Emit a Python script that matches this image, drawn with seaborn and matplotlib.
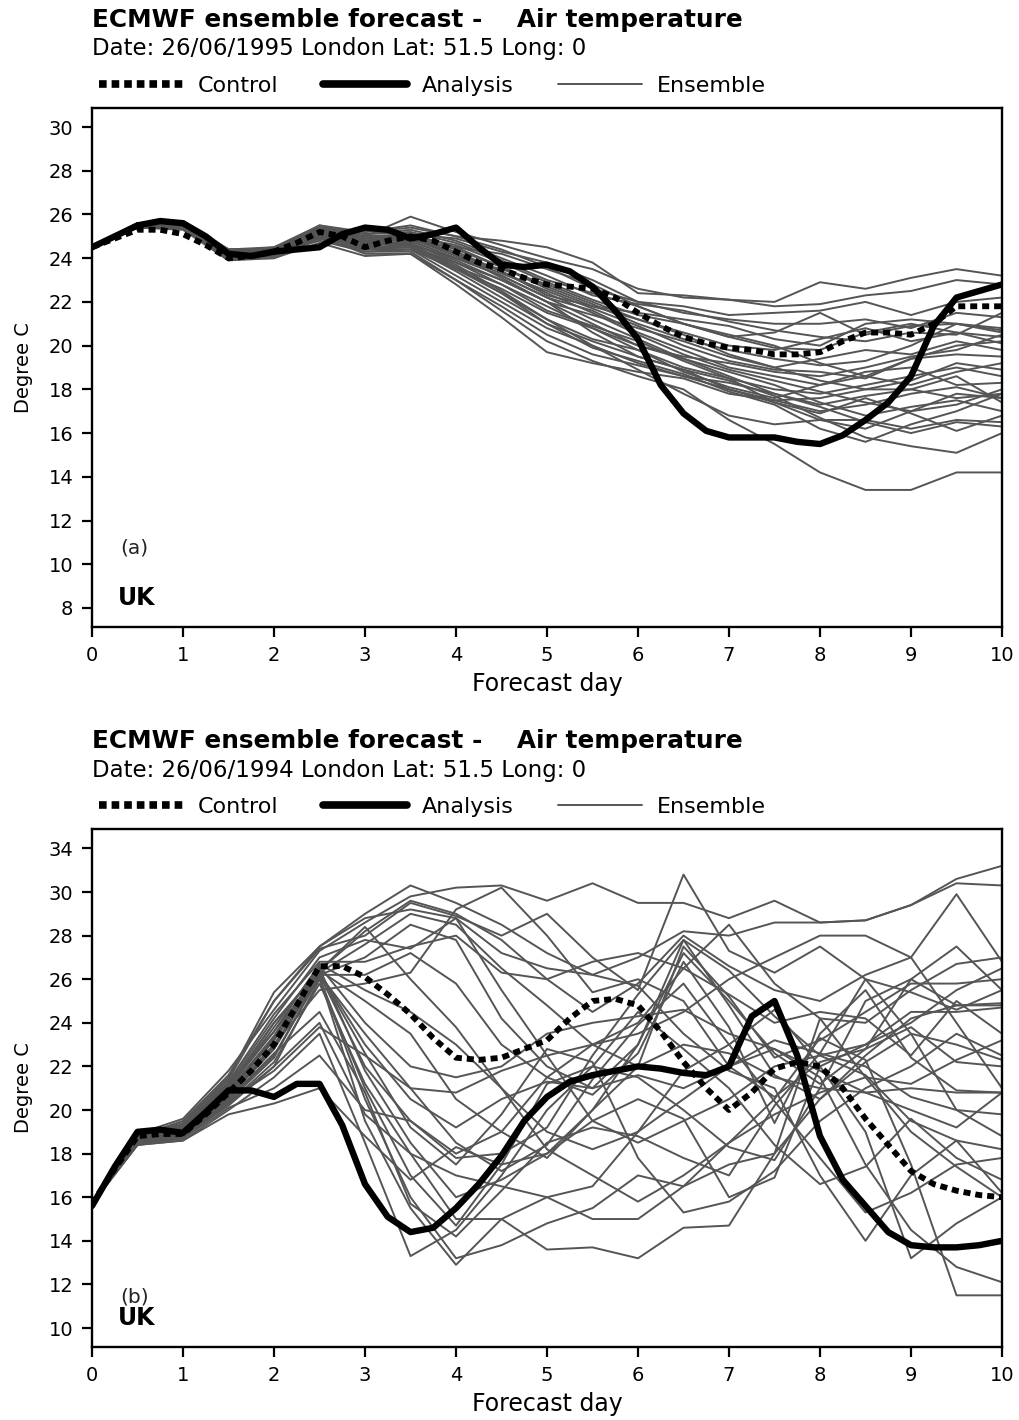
import numpy as np
import pandas as pd
import matplotlib
matplotlib.use("Agg")
import matplotlib.pyplot as plt
from matplotlib.lines import Line2D
import seaborn as sns

# forecast days
ens_days = [i * 0.5 for i in range(21)]
fine_days = [i * 0.25 for i in range(41)]

# ---- panel (a): 26/06/1995 ----
control_a = [24.5, 24.9, 25.3, 25.3, 25.1, 24.6, 24.0, 24.1, 24.3, 24.7, 25.2, 25.0, 24.5, 24.8,
             25.0, 24.8, 24.3, 23.8, 23.5, 23.1, 22.8, 22.7, 22.6, 22.2, 21.5, 20.9, 20.4, 20.1,
             19.9, 19.8, 19.6, 19.6, 19.7, 20.2, 20.6, 20.6, 20.5, 21.0, 21.8, 21.8, 21.8]
analysis_a = [24.5, 25.0, 25.5, 25.7, 25.6, 25.0, 24.2, 24.1, 24.3, 24.4, 24.5, 25.1, 25.4, 25.3,
              24.9, 25.1, 25.4, 24.5, 23.7, 23.6, 23.7, 23.4, 22.7, 21.6, 20.3, 18.2, 16.9, 16.1,
              15.8, 15.8, 15.8, 15.6, 15.5, 15.9, 16.6, 17.4, 18.6, 20.9, 22.2, 22.5, 22.8]
ensemble_a = [
    [24.5, 25.5, 25.6, 24.3, 24.4, 25.4, 25.0, 25.9, 25.2, 24.6, 24.0, 23.5, 22.6, 22.2, 22.1, 22.0, 22.9, 22.6, 23.1, 23.5, 23.2],
    [24.5, 25.6, 25.7, 24.4, 24.3, 25.5, 25.2, 25.4, 25.0, 24.8, 24.5, 23.8, 22.4, 22.3, 22.1, 21.8, 21.9, 22.3, 22.5, 23.0, 22.8],
    [24.5, 25.5, 25.5, 24.2, 24.4, 25.3, 24.9, 25.1, 24.9, 24.3, 23.8, 23.0, 22.0, 21.5, 21.2, 21.0, 21.0, 21.2, 20.8, 21.5, 21.3],
    [24.5, 25.4, 25.4, 24.0, 24.2, 25.0, 24.6, 24.8, 24.5, 24.2, 23.5, 22.8, 21.8, 21.0, 20.4, 20.6, 21.5, 20.5, 20.9, 21.0, 20.8],
    [24.5, 25.5, 25.6, 24.1, 24.3, 25.2, 24.8, 24.6, 24.0, 23.5, 22.8, 22.0, 21.2, 20.6, 20.0, 19.8, 20.3, 20.8, 20.2, 20.6, 20.4],
    [24.5, 25.6, 25.5, 24.2, 24.2, 25.1, 24.5, 24.5, 23.8, 23.0, 22.0, 21.4, 20.8, 20.2, 19.5, 19.0, 19.4, 19.8, 19.6, 20.2, 19.8],
    [24.5, 25.5, 25.4, 24.0, 24.1, 24.9, 24.4, 24.4, 23.5, 22.6, 21.5, 20.8, 20.0, 19.5, 19.2, 18.8, 18.6, 19.0, 19.5, 19.8, 20.5],
    [24.5, 25.5, 25.5, 24.3, 24.5, 25.3, 25.0, 25.0, 24.6, 23.8, 22.9, 22.1, 21.4, 21.0, 20.4, 19.9, 19.8, 20.6, 21.0, 20.6, 20.1],
    [24.5, 25.4, 25.3, 23.9, 24.2, 24.8, 24.3, 24.3, 23.0, 21.8, 20.5, 19.6, 19.1, 18.6, 18.0, 17.5, 17.6, 18.0, 18.4, 19.2, 18.9],
    [24.5, 25.5, 25.4, 24.1, 24.3, 25.0, 24.2, 24.2, 22.8, 21.3, 19.7, 19.2, 18.8, 18.5, 17.8, 17.5, 17.0, 17.3, 17.8, 18.1, 17.6],
    [24.5, 25.5, 25.5, 24.2, 24.4, 25.2, 24.7, 24.6, 23.6, 22.4, 21.2, 20.3, 19.8, 19.0, 18.5, 18.0, 17.8, 18.2, 18.6, 19.0, 18.6],
    [24.5, 25.6, 25.6, 24.4, 24.4, 25.4, 24.9, 24.8, 24.0, 23.2, 22.2, 21.6, 20.6, 19.8, 19.0, 18.6, 18.2, 18.6, 19.4, 20.0, 20.2],
    [24.5, 25.5, 25.4, 24.0, 24.0, 24.9, 24.3, 24.4, 23.2, 22.0, 20.8, 20.0, 19.2, 18.6, 18.3, 17.8, 17.2, 16.5, 16.0, 16.5, 16.3],
    [24.5, 25.4, 25.5, 24.1, 24.2, 25.1, 24.6, 24.7, 23.9, 23.0, 22.0, 21.0, 20.0, 19.4, 18.8, 18.2, 17.4, 16.8, 17.2, 17.5, 17.0],
    [24.5, 25.5, 25.6, 24.2, 24.3, 25.3, 25.0, 25.1, 24.5, 23.6, 22.6, 21.8, 21.2, 20.5, 19.6, 19.0, 18.4, 18.0, 18.0, 17.6, 17.8],
    [24.5, 25.5, 25.5, 24.3, 24.4, 25.4, 25.1, 25.3, 24.8, 24.0, 23.2, 22.3, 21.9, 21.6, 21.1, 20.7, 20.4, 20.2, 20.6, 20.5, 21.5],
    [24.5, 25.6, 25.5, 24.2, 24.3, 25.2, 24.7, 24.9, 24.3, 23.4, 22.4, 21.5, 20.5, 19.6, 18.9, 18.4, 17.9, 17.4, 17.0, 17.3, 18.0],
    [24.5, 25.4, 25.4, 23.9, 24.0, 24.7, 24.1, 24.2, 23.0, 21.6, 20.2, 19.3, 18.6, 18.0, 16.6, 15.5, 14.2, 13.4, 13.4, 14.2, 14.2],
    [24.5, 25.5, 25.5, 24.1, 24.2, 25.0, 24.5, 24.6, 23.7, 22.5, 21.2, 20.0, 18.9, 17.8, 16.8, 16.4, 16.6, 16.6, 16.2, 16.6, 16.5],
    [24.5, 25.5, 25.6, 24.3, 24.4, 25.3, 24.9, 25.0, 24.2, 23.1, 22.0, 20.6, 19.5, 18.9, 18.4, 17.7, 16.7, 15.8, 15.4, 15.1, 16.0],
    [24.5, 25.6, 25.6, 24.4, 24.5, 25.5, 25.1, 25.2, 24.7, 23.9, 23.0, 22.4, 21.8, 21.0, 20.5, 20.0, 19.2, 18.6, 18.2, 18.8, 19.2],
    [24.5, 25.5, 25.5, 24.2, 24.3, 25.2, 24.8, 24.9, 24.2, 23.4, 22.3, 21.8, 21.5, 21.2, 20.9, 20.3, 20.0, 21.0, 21.2, 21.0, 20.7],
    [24.5, 25.5, 25.4, 24.0, 24.1, 25.0, 24.5, 24.5, 23.4, 22.2, 21.0, 20.2, 19.5, 18.9, 18.0, 17.4, 16.9, 17.6, 16.9, 16.1, 16.8],
    [24.5, 25.6, 25.7, 24.4, 24.4, 25.4, 25.2, 25.5, 25.0, 24.4, 23.6, 22.6, 22.0, 21.8, 21.4, 21.5, 21.6, 22.0, 21.4, 22.0, 22.2],
    [24.5, 25.5, 25.5, 24.2, 24.3, 25.1, 24.6, 24.8, 24.0, 23.2, 22.2, 21.2, 20.3, 19.4, 18.6, 17.8, 17.3, 17.7, 18.0, 18.6, 17.4],
    [24.5, 25.4, 25.4, 24.0, 24.2, 24.9, 24.4, 24.5, 23.6, 22.8, 21.8, 20.8, 19.8, 18.8, 18.1, 17.6, 18.2, 18.8, 19.0, 18.2, 18.3],
    [24.5, 25.5, 25.6, 24.3, 24.4, 25.3, 24.8, 25.0, 24.4, 23.6, 22.7, 21.9, 21.0, 20.3, 19.8, 19.4, 19.1, 19.3, 20.0, 21.0, 20.6],
    [24.5, 25.5, 25.5, 24.1, 24.3, 25.1, 24.6, 24.7, 23.8, 22.8, 21.6, 20.9, 20.2, 19.3, 18.5, 17.4, 16.6, 16.2, 17.0, 17.8, 17.6],
    [24.5, 25.6, 25.5, 24.2, 24.4, 25.2, 24.8, 24.9, 24.1, 23.3, 22.5, 21.7, 20.9, 20.0, 19.3, 18.9, 18.8, 18.5, 19.4, 19.6, 19.5],
    [24.5, 25.5, 25.5, 24.1, 24.2, 25.0, 24.5, 24.6, 23.5, 22.4, 21.0, 19.9, 19.3, 18.7, 17.9, 17.3, 16.2, 15.6, 16.4, 17.0, 17.8],
]

# ---- panel (b): 26/06/1994 ----
control_b = [15.7, 17.3, 18.8, 18.9, 18.9, 19.8, 20.8, 21.8, 23.0, 24.8, 26.6, 26.6, 26.1, 25.3,
             24.4, 23.3, 22.4, 22.3, 22.4, 22.8, 23.2, 24.2, 25.0, 25.1, 24.8, 23.6, 22.2, 21.0,
             20.0, 20.8, 21.9, 22.2, 22.0, 21.0, 19.6, 18.4, 17.2, 16.6, 16.3, 16.1, 16.0]
analysis_b = [15.6, 17.4, 19.0, 19.1, 18.95, 19.9, 20.9, 20.9, 20.6, 21.2, 21.2, 19.3, 16.6, 15.1,
              14.4, 14.6, 15.5, 16.6, 17.9, 19.5, 20.6, 21.3, 21.6, 21.8, 22.0, 21.9, 21.7, 21.6,
              22.0, 24.3, 25.0, 22.5, 18.8, 16.8, 15.6, 14.4, 13.8, 13.7, 13.7, 13.8, 14.0]
ensemble_b = [
    [15.7, 18.8, 19.4, 21.5, 25.4, 27.5, 29.0, 30.3, 29.5, 28.5, 27.2, 26.2, 27.0, 28.2, 28.0, 28.6, 28.6, 28.7, 29.4, 30.6, 31.2],
    [15.7, 18.9, 19.6, 21.8, 24.6, 27.3, 28.6, 29.8, 30.2, 30.3, 29.6, 30.4, 29.5, 29.5, 28.8, 29.6, 28.6, 28.7, 29.4, 30.4, 30.3],
    [15.7, 18.7, 19.2, 21.0, 24.0, 26.4, 28.2, 29.6, 29.0, 27.8, 26.0, 24.5, 25.8, 28.0, 26.6, 25.5, 25.0, 26.2, 27.0, 29.9, 26.8],
    [15.7, 18.8, 19.3, 21.2, 23.6, 26.3, 27.6, 29.0, 28.5, 26.5, 24.8, 23.0, 22.0, 27.5, 25.2, 22.4, 23.2, 24.5, 25.8, 25.8, 26.0],
    [15.7, 18.6, 19.0, 20.8, 23.2, 26.2, 27.0, 28.5, 27.8, 24.2, 22.0, 21.0, 23.0, 27.8, 24.8, 21.6, 20.5, 22.5, 24.2, 24.8, 24.9],
    [15.7, 18.5, 18.9, 20.6, 22.8, 26.2, 26.2, 27.2, 25.8, 23.0, 21.5, 20.7, 22.6, 26.8, 23.8, 19.4, 23.5, 25.5, 22.4, 20.9, 20.8],
    [15.7, 18.7, 19.1, 20.9, 23.3, 26.4, 25.0, 23.5, 20.5, 19.0, 17.8, 20.0, 23.0, 27.2, 25.0, 22.6, 21.2, 22.8, 26.0, 27.5, 25.5],
    [15.7, 18.6, 19.0, 20.6, 22.9, 26.2, 23.5, 21.0, 18.5, 17.2, 18.4, 21.4, 23.9, 25.8, 23.0, 20.4, 17.8, 15.3, 16.2, 17.5, 17.8],
    [15.7, 18.5, 18.8, 20.4, 22.4, 26.2, 22.0, 19.5, 17.8, 18.0, 19.2, 22.5, 25.3, 27.8, 26.4, 24.3, 22.5, 21.6, 19.5, 18.6, 18.2],
    [15.7, 18.4, 18.7, 20.3, 22.0, 26.0, 21.0, 17.0, 14.7, 17.5, 21.2, 22.0, 21.5, 20.0, 18.3, 17.7, 21.0, 25.0, 26.0, 24.8, 24.8],
    [15.7, 18.6, 19.0, 20.7, 23.0, 26.1, 20.5, 16.0, 13.2, 13.8, 14.8, 15.5, 17.0, 16.5, 17.5, 18.0, 20.5, 22.2, 23.5, 23.0, 22.3],
    [15.7, 18.5, 18.8, 20.5, 22.5, 26.1, 19.5, 15.5, 12.9, 15.0, 13.6, 13.7, 13.2, 14.6, 14.7, 18.0, 24.2, 24.0, 25.5, 26.7, 27.0],
    [15.7, 18.6, 19.1, 20.9, 23.4, 26.5, 21.8, 18.5, 16.0, 16.8, 18.0, 19.5, 20.5, 19.6, 16.0, 16.9, 22.0, 23.0, 24.5, 24.5, 24.7],
    [15.7, 18.7, 19.2, 21.0, 23.8, 26.6, 24.0, 22.0, 21.5, 22.0, 23.5, 24.0, 24.3, 24.6, 23.5, 22.8, 21.8, 20.8, 20.0, 19.2, 20.8],
    [15.7, 18.8, 19.3, 21.3, 24.4, 26.8, 26.8, 27.5, 28.0, 26.3, 26.0, 26.8, 27.2, 26.5, 25.3, 24.0, 24.5, 24.2, 22.5, 25.0, 23.5],
    [15.7, 18.6, 19.0, 20.7, 23.0, 25.5, 25.8, 26.3, 29.2, 30.2, 28.0, 25.4, 26.0, 25.0, 22.0, 20.6, 22.2, 22.8, 23.8, 22.2, 22.0],
    [15.7, 18.5, 18.9, 20.5, 22.6, 24.5, 20.8, 15.7, 14.2, 16.3, 18.5, 19.2, 18.8, 17.8, 17.0, 20.2, 22.6, 22.0, 20.6, 20.0, 19.8],
    [15.7, 18.4, 18.6, 20.0, 21.5, 23.5, 18.5, 13.3, 14.5, 17.0, 20.0, 22.0, 24.5, 22.8, 21.0, 18.4, 16.6, 17.4, 19.6, 17.8, 16.8],
    [15.7, 18.5, 18.8, 20.2, 22.0, 24.0, 19.8, 18.0, 17.0, 16.5, 16.0, 16.5, 19.0, 21.8, 23.0, 24.6, 22.0, 19.0, 13.2, 14.8, 16.0],
    [15.7, 18.4, 18.6, 19.8, 20.3, 21.0, 18.8, 16.8, 18.3, 17.5, 18.0, 20.0, 22.0, 23.0, 22.6, 21.5, 21.0, 20.8, 21.0, 20.8, 20.8],
    [15.7, 18.5, 18.7, 20.1, 21.0, 22.5, 20.0, 19.5, 18.0, 19.0, 21.5, 23.0, 23.5, 24.5, 26.0, 27.0, 28.0, 28.0, 27.0, 24.0, 21.0],
    [15.7, 18.6, 18.9, 20.4, 21.8, 23.8, 22.5, 21.0, 20.8, 21.8, 22.5, 23.0, 24.0, 26.5, 28.5, 25.8, 24.2, 21.5, 19.0, 17.4, 16.0],
    [15.7, 18.7, 19.2, 21.1, 24.0, 26.4, 28.4, 26.0, 23.8, 21.0, 18.2, 17.0, 15.8, 17.0, 18.5, 19.8, 20.8, 21.5, 21.2, 22.3, 23.2],
    [15.7, 18.8, 19.4, 21.4, 25.0, 27.5, 28.8, 29.2, 28.8, 25.5, 22.5, 19.5, 18.5, 19.5, 20.5, 22.0, 22.5, 23.0, 24.0, 25.5, 26.5],
    [15.7, 18.7, 19.2, 21.0, 23.6, 26.7, 25.5, 24.5, 23.0, 21.0, 19.0, 18.2, 19.0, 20.5, 22.0, 22.8, 21.5, 17.5, 14.5, 12.8, 12.1],
    [15.7, 18.6, 19.0, 20.6, 22.8, 26.3, 22.6, 19.2, 17.5, 19.8, 22.8, 22.2, 17.8, 15.3, 15.8, 17.2, 19.5, 21.0, 22.0, 23.5, 22.5],
    [15.7, 18.5, 18.8, 20.3, 22.2, 25.8, 21.2, 18.0, 15.0, 15.0, 16.0, 15.0, 15.0, 16.5, 18.5, 20.5, 23.3, 22.3, 17.5, 11.5, 11.5],
    [15.7, 18.6, 19.1, 20.8, 23.2, 26.3, 23.0, 20.5, 19.2, 20.5, 21.3, 21.0, 21.6, 21.0, 22.0, 23.2, 22.6, 26.0, 25.4, 24.6, 25.5],
    [15.7, 18.7, 19.3, 21.2, 24.2, 27.0, 27.8, 27.4, 28.8, 27.2, 26.5, 26.2, 25.7, 23.5, 21.8, 21.0, 17.0, 14.0, 17.0, 18.6, 16.2],
    [15.7, 18.8, 19.5, 21.6, 25.0, 27.4, 28.0, 29.5, 28.9, 28.0, 29.0, 27.0, 25.5, 30.8, 27.3, 26.3, 27.5, 26.0, 23.5, 20.0, 18.8],
]

dates = ["26/06/1995", "26/06/1994"]
panel_tags = ["(a)", "(b)"]
yticks_a = list(range(8, 31, 2))
ytick_labels_a = [str(v) for v in yticks_a]
yticks_b = list(range(10, 33, 2))
# the original axis labels its top tick "34"
ytick_labels_b = ["10", "12", "14", "16", "18", "20", "22", "24", "26", "28", "30", "34"]
xticks = list(range(0, 11))

sns.set_theme(style="ticks")
plt.rcParams["font.family"] = ["DejaVu Sans"]
plt.rcParams.update({"text.color": "black", "axes.labelcolor": "black",
                     "xtick.color": "black", "ytick.color": "black"})

ENS_COLOR = "#555555"
W, H = 1019, 1420
fig = plt.figure(figsize=(W / 100, H / 100), dpi=100)


def long_form(members, days):
    rows = []
    for k, m in enumerate(members):
        for d, v in zip(days, m):
            rows.append((k, d, v))
    return pd.DataFrame(rows, columns=["member", "day", "temp"])


def draw_panel(rect, members, control, analysis, ylim, yticks, ylabels, date, tag, tag_y, uk_y):
    ax = fig.add_axes(rect)
    ens_df = long_form(members, ens_days)
    sns.lineplot(data=ens_df, x="day", y="temp", units="member", estimator=None,
                 color=ENS_COLOR, lw=1.4, ax=ax, legend=False)
    sns.lineplot(x=fine_days, y=analysis, color="black", lw=4.6, ax=ax,
                 solid_joinstyle="round", solid_capstyle="round")
    sns.lineplot(x=fine_days, y=control, color="black", lw=4.2, ax=ax,
                 linestyle=(0, (1.2, 0.85)), dash_capstyle="butt")
    ax.set_xlim(0, 10)
    ax.set_ylim(*ylim)
    ax.set_xticks(xticks)
    ax.set_xticklabels([str(x) for x in xticks], fontsize=14)
    ax.set_yticks(yticks)
    ax.set_yticklabels(ylabels, fontsize=14)
    ax.set_xlabel("Forecast day", fontsize=17, labelpad=5)
    ax.set_ylabel("Degree C", fontsize=14, labelpad=11)
    for s in ax.spines.values():
        s.set_linewidth(1.7)
        s.set_color("black")
    ax.tick_params(direction="out", length=7.5, width=1.6, colors="black", pad=6)
    ax.text(0.31, tag_y, tag, fontsize=14.5, color="#222222", ha="left", va="center")
    ax.text(0.28, uk_y, "UK", fontsize=17, fontweight="bold", ha="left", va="center")

    # header text above the axes
    top = 1 - rect[1] - rect[3]
    fig.text(92 / W, 1 - (top * H - 88) / H, "ECMWF ensemble forecast -    Air temperature",
             fontsize=17.8, fontweight="bold", ha="left", va="center")
    fig.text(92 / W, 1 - (top * H - 59) / H, f"Date: {date} London Lat: 51.5 Long: 0",
             fontsize=16.5, ha="left", va="center")

    handles = [
        Line2D([], [], color="black", lw=5.5, linestyle=(0, (1.0, 0.65)), dash_capstyle="butt"),
        Line2D([], [], color="black", lw=5.5),
        Line2D([], [], color=ENS_COLOR, lw=1.4),
    ]
    ax.legend(handles, ["Control", "Analysis", "Ensemble"], loc="lower left",
              bbox_to_anchor=(-0.006, 1.0), ncol=3, frameon=False, fontsize=16,
              handlelength=3.8, handletextpad=0.65, columnspacing=2.0,
              borderpad=0.0, borderaxespad=0.55)
    return ax


draw_panel([92 / W, 1 - 627 / H, 910 / W, 519 / H], ensemble_a, control_a, analysis_a,
           (7.13, 30.87), yticks_a, ytick_labels_a, dates[0], panel_tags[0], 10.74, 8.45)
draw_panel([92 / W, 1 - 1347 / H, 910 / W, 518 / H], ensemble_b, control_b, analysis_b,
           (9.13, 32.89), yticks_b, ytick_labels_b, dates[1], panel_tags[1], 11.42, 10.46)

fig.savefig("out.png", dpi=100)
